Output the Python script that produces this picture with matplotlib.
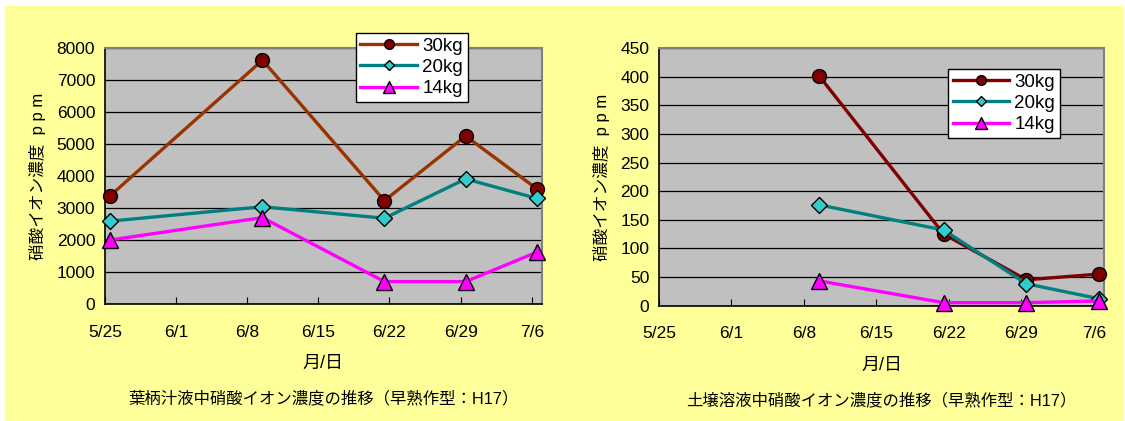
import datetime as dt
import matplotlib
matplotlib.use("Agg")
import matplotlib.pyplot as plt
from matplotlib.patches import Rectangle

plt.rcParams['font.family'] = ['Liberation Sans', 'Noto Sans CJK JP']

# sampling dates (H17 season)
sample_dates = ["5/25", "6/9", "6/21", "6/29", "7/6"]
tick_labels = ["5/25", "6/1", "6/8", "6/15", "6/22", "6/29", "7/6"]
series_names = ["30kg", "20kg", "14kg"]

# petiole sap nitrate (ppm)
sap_30kg = [3380, 7620, 3230, 5250, 3600]
sap_20kg = [2590, 3040, 2680, 3910, 3300]
sap_14kg = [2000, 2700, 700, 700, 1620]

# soil solution nitrate (ppm), no data on 5/25
soil_dates = ["6/9", "6/21", "6/29", "7/6"]
soil_30kg = [401, 125, 45, 55]
soil_20kg = [176, 132, 38, 12]
soil_14kg = [43, 5, 5, 8]

YEAR = 2005
start = dt.date(YEAR, 5, 25)


def day_of(s):
    m, d = s.split("/")
    return (dt.date(YEAR, int(m), int(d)) - start).days


def draw_panel(fig, rect, dates, series, ymax, ystep, line30, title, legend_at):
    ax = fig.add_axes(rect, zorder=2)
    ax.set_facecolor("#C0C0C0")
    # date axis: each day is one slot, points sit in the middle of it
    xs = [day_of(s) + 0.5 for s in dates]
    styles = [
        dict(color=line30, marker="o", mfc="#800000", ms=10),
        dict(color="#008080", marker="D", mfc="#33CCCC", ms=8),
        dict(color="#FF00FF", marker="^", mfc="#FF00FF", ms=12),
    ]
    for name, ys, st in zip(series_names, series, styles):
        ax.plot(xs, ys, lw=2.4, mec="black", mew=1.0, label=name,
                clip_on=False, zorder=3, **st)

    ax.set_xlim(0, day_of("7/6") + 1)
    ax.set_ylim(0, ymax)
    ax.set_yticks(range(0, ymax + 1, ystep))
    ax.set_xticks([day_of(t) for t in tick_labels])
    ax.set_xticklabels(tick_labels)
    ax.yaxis.grid(True, color="black", lw=0.9)
    ax.set_axisbelow(True)
    ax.tick_params(axis="x", direction="in", length=5, pad=15, labelsize=12.5)
    ax.tick_params(axis="y", length=0, pad=7, labelsize=12.5)
    for side in ("top", "right"):
        ax.spines[side].set_color("#808080")
        ax.spines[side].set_linewidth(1.5)
    for side in ("left", "bottom"):
        ax.spines[side].set_color("black")
        ax.spines[side].set_linewidth(1.2)

    ax.set_ylabel("硝酸イオン濃度  p p m", fontsize=12)
    ax.set_xlabel("月/日", fontsize=13)
    ax.xaxis.set_label_coords(0.5, -0.20)
    ax.text(0.5, -0.37, title, transform=ax.transAxes, ha="center",
            va="center", fontsize=11.8)

    leg = ax.legend(loc="upper left", bbox_to_anchor=legend_at, fontsize=13.5,
                    fancybox=False, framealpha=1, edgecolor="black",
                    borderpad=0.25, labelspacing=0.22, handlelength=3.0,
                    handletextpad=0.3, markerscale=0.7, borderaxespad=0)
    leg.get_frame().set_linewidth(1.0)
    leg.set_zorder(5)
    return ax


fig = plt.figure(figsize=(11.25, 4.21), dpi=100)
fig.patch.set_facecolor("white")
# yellow chart area behind both panels
fig.patches.append(Rectangle((5 / 1125, 1 - 420 / 421), 1118 / 1125, 414 / 421,
                             transform=fig.transFigure, color="#FFFF99",
                             zorder=-10))

ax1 = draw_panel(fig, [0.0933, 0.2779, 0.3884, 0.608], sample_dates,
                 [sap_30kg, sap_20kg, sap_14kg], 8000, 1000, "#993300",
                 "葉柄汁液中硝酸イオン濃度の推移（早熟作型：H17）",
                 (0.574, 1.059))
ax1.yaxis.set_label_coords(-0.136, 0.5)

ax2 = draw_panel(fig, [0.5858, 0.2743, 0.3956, 0.611], soil_dates,
                 [soil_30kg, soil_20kg, soil_14kg], 450, 50, "#800000",
                 "土壌溶液中硝酸イオン濃度の推移（早熟作型：H17）",
                 (0.649, 0.920))
ax2.yaxis.set_label_coords(-0.111, 0.5)

fig.savefig("out.png", dpi=100)
